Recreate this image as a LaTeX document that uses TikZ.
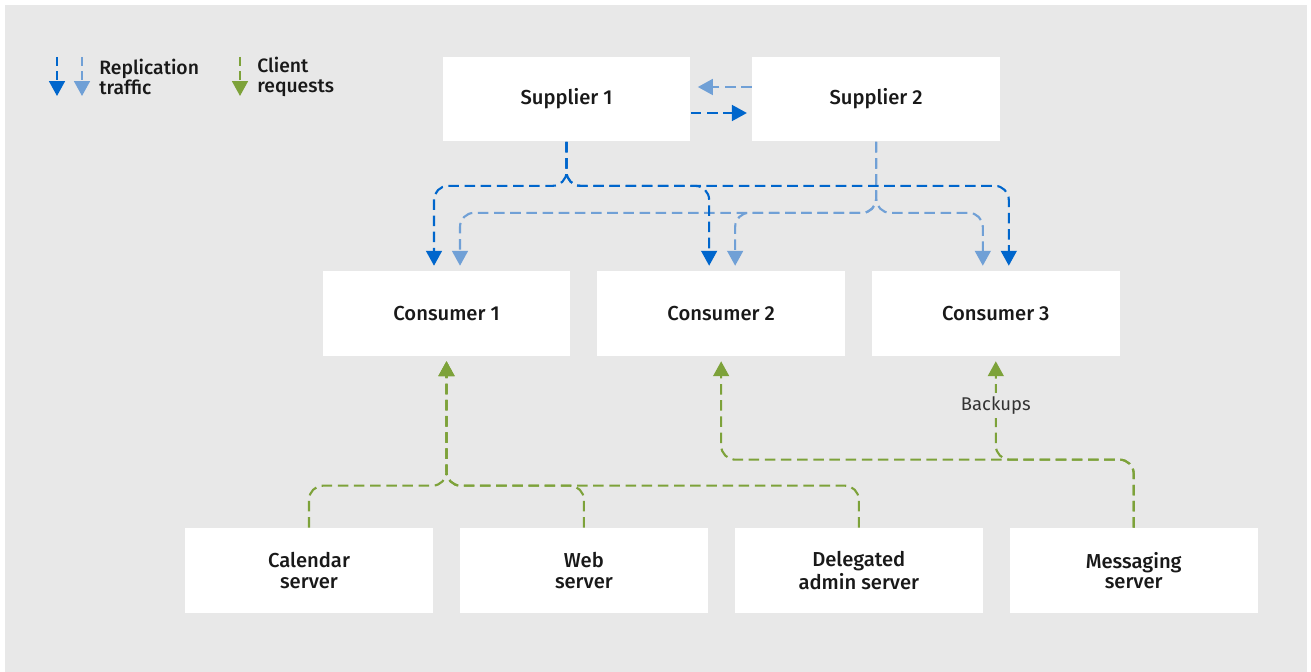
\documentclass[tikz,border=0pt]{standalone}
\usepackage{fontspec}
\setmainfont{Fira Sans}[BoldFont={* Medium}]
\usetikzlibrary{positioning,arrows.meta,calc}
\definecolor{bg}{HTML}{E8E8E8}
\definecolor{repdark}{HTML}{0066CC}
\definecolor{replight}{HTML}{70A0D6}
\definecolor{cli}{HTML}{7DA23A}
\tikzset{
  box/.style={fill=white, align=center, font=\fontsize{11.5}{11.5}\selectfont\bfseries,
              text=black!90, minimum width=4.96cm, minimum height=1.7cm, inner sep=0pt},
  link/.style={dash pattern=on 6pt off 3.2pt, line width=1.2pt, rounded corners=8pt,
               -{Triangle[length=8.5pt,width=9pt]}, shorten >=2.8pt},
  dk/.style={link, draw=repdark},
  lt/.style={link, draw=replight},
  cl/.style={link, draw=cli},
  legend/.style={anchor=west, align=left, inner sep=0pt,
                 font=\fontsize{11}{11.5}\selectfont\bfseries, text=black!90},
}
\begin{document}
\begin{tikzpicture}[x=0.02cm, y=-0.02cm, node distance=0.52cm and 0.525cm]
  \useasboundingbox (0,0) rectangle (1311,672);
  \fill[bg] (5,5) rectangle (1307,672);

  % legend
  \coordinate (lgdk) at (57,57);
  \coordinate (lglt) at (82,57);
  \coordinate (lgcl) at (240,57);
  \draw[dk, shorten >=0pt, dash pattern=on 5pt off 3pt] (lgdk) -- ++(0,39);
  \draw[lt, shorten >=0pt, dash pattern=on 5pt off 3pt] (lglt) -- ++(0,39);
  \draw[cl, shorten >=0pt, dash pattern=on 5pt off 3pt] (lgcl) -- ++(0,39);
  \node[legend] (lgrep) at (99,77) {Replication\\traffic};
  \node[legend] (lgcli) at (257,77) {Client\\requests};

  % boxes
  \node[box] (sup1) at (566.5,99) {Supplier 1};
  \node[box, right=1.22cm of sup1] (sup2) {Supplier 2};
  \node[box] (con1) at (446.5,313.5) {Consumer 1};
  \node[box, right=0.52cm of con1] (con2) {Consumer 2};
  \node[box, right=0.52cm of con2] (con3) {Consumer 3};
  \node[box] (cal) at (309,570.5) {Calendar\\server};
  \node[box, right=of cal] (web) {Web\\server};
  \node[box, right=of web] (dlg) {Delegated\\admin server};
  \node[box, right=of dlg] (msg) {Messaging\\server};

  % replication
  \draw[lt, shorten >=4pt] ($(sup2.west)+(0,-12)$) -- ($(sup1.east)+(0,-12)$);
  \draw[dk] ($(sup1.east)+(0,14)$) -- ($(sup2.west)+(0,14)$);
  \draw[lt] (sup2.south) -- ++(0,71) -| ($(con1.north)+(13.5,0)$);
  \draw[lt] (sup2.south) -- ++(0,71) -| ($(con2.north)+(14,0)$);
  \draw[lt] (sup2.south) -- ++(0,71) -| ($(con3.north)+(-13,0)$);
  \draw[dk] (sup1.south) -- ++(0,44) -| ($(con1.north)+(-12.5,0)$);
  \draw[dk] (sup1.south) -- ++(0,44) -| ($(con2.north)+(-12,0)$);
  \draw[dk] (sup1.south) -- ++(0,44) -| ($(con3.north)+(13,0)$);

  % client requests
  \draw[cl] (cal.north) -- ++(0,-42) -| (con1.south);
  \draw[cl] (web.north) -- ++(0,-42) -| (con1.south);
  \draw[cl] (dlg.north) -- ++(0,-42) -| (con1.south);
  \draw[cl] (msg.north) -- ++(0,-68) -| (con2.south);
  \draw[cl] (msg.north) -- ++(0,-68) -| (con3.south);
  \node[fill=bg, inner sep=2pt, font=\fontsize{10.5}{12}\selectfont, text=black!80]
    (bk) at ($(con3.south)+(0,49)$) {Backups};
\end{tikzpicture}
\end{document}
